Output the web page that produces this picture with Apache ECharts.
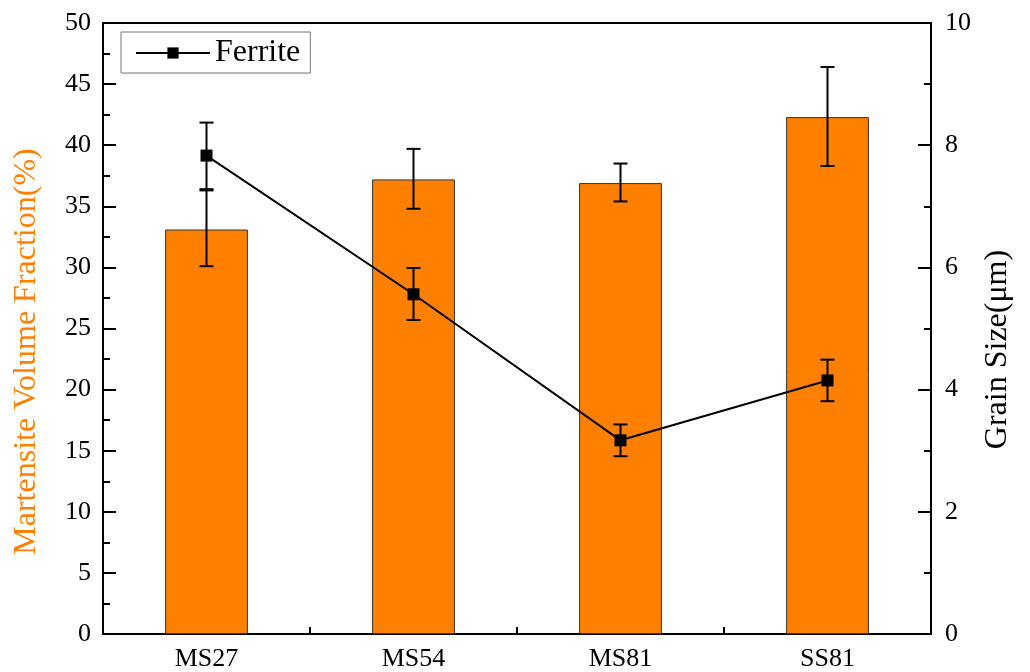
<!DOCTYPE html>
<html>
<head>
<meta charset="utf-8">
<script src="https://cdn.jsdelivr.net/npm/echarts@6/dist/echarts.min.js"></script>
<style>html,body{margin:0;padding:0;background:#fff;}#c{width:1030px;height:672px;}</style>
</head>
<body>
<div id="c"></div>
<script>
const categories = ['MS27', 'MS54', 'MS81', 'SS81'];
const martensite = [33.1, 37.2, 36.9, 42.3];
const martensiteLow = [30.1, 34.8, 35.4, 38.3];
const martensiteHigh = [36.4, 39.7, 38.5, 46.4];
const ferrite = [7.83, 5.56, 3.17, 4.15];
const ferriteLow = [7.26, 5.14, 2.91, 3.81];
const ferriteHigh = [8.37, 5.99, 3.43, 4.49];
const leftTicks = [0, 50, 5];
const rightTicks = [0, 10, 2];

const FONT = 'Liberation Serif';
const chart = echarts.init(document.getElementById('c'), null, {renderer: 'canvas'});

function errRender(params, api) {
  const x = api.value(0);
  const lo = api.coord([x, api.value(1)]);
  const hi = api.coord([x, api.value(2)]);
  const cap = 7;
  const st = {stroke: '#000', lineWidth: 2};
  return {
    type: 'group',
    children: [
      {type: 'line', shape: {x1: lo[0], y1: lo[1], x2: hi[0], y2: hi[1]}, style: st},
      {type: 'line', shape: {x1: lo[0] - cap, y1: lo[1], x2: lo[0] + cap, y2: lo[1]}, style: st},
      {type: 'line', shape: {x1: hi[0] - cap, y1: hi[1], x2: hi[0] + cap, y2: hi[1]}, style: st}
    ]
  };
}

const axisLine = {show: true, lineStyle: {color: '#000', width: 2}};
const labelStyle = {fontFamily: FONT, fontSize: 26, color: '#000'};

chart.setOption({
  animation: false,
  backgroundColor: '#fff',
  grid: {left: 103, right: 99, top: 23, bottom: 37},
  legend: {
    show: true,
    data: ['Ferrite'],
    left: 121, top: 32,
    padding: [5, 10, 4, 14],
    borderColor: '#777', borderWidth: 1,
    itemWidth: 74, itemHeight: 14, itemGap: 6,
    textStyle: {fontFamily: FONT, fontSize: 32, color: '#000'}
  },
  xAxis: [
    {
      type: 'category', data: categories, position: 'bottom',
      axisLine: axisLine,
      axisTick: {show: true, inside: true, alignWithLabel: true, length: 12, lineStyle: {color: '#000', width: 2}},
      axisLabel: Object.assign({margin: 12}, labelStyle),
      splitLine: {show: false}
    },
    {
      type: 'value', min: 0, max: 4, interval: 1, position: 'bottom',
      axisLine: {show: false},
      axisTick: {show: true, inside: true, length: 7, lineStyle: {color: '#000', width: 2}},
      axisLabel: {show: false}, splitLine: {show: false}
    },
    {
      type: 'category', data: categories, position: 'top',
      axisLine: axisLine, axisTick: {show: false}, axisLabel: {show: false}, splitLine: {show: false}
    }
  ],
  yAxis: [
    {
      type: 'value', min: leftTicks[0], max: leftTicks[1], interval: leftTicks[2],
      name: 'Martensite Volume Fraction(%)', nameLocation: 'middle', nameGap: 60, nameRotate: 90,
      nameTextStyle: {fontFamily: FONT, fontSize: 32, color: '#FF8000', padding: [0, 46, 0, 0]},
      axisLine: axisLine,
      axisTick: {show: true, inside: true, length: 13, lineStyle: {color: '#000', width: 2}},
      minorTick: {show: true, splitNumber: 2, length: 7, lineStyle: {color: '#000', width: 2}},
      axisLabel: Object.assign({margin: 12}, labelStyle),
      splitLine: {show: false}
    },
    {
      type: 'value', min: rightTicks[0], max: rightTicks[1], interval: rightTicks[2], position: 'right',
      name: 'Grain Size(μm)', nameLocation: 'middle', nameGap: 51, nameRotate: 90,
      nameTextStyle: {fontFamily: FONT, fontSize: 32, color: '#000', padding: [0, 42, 0, 0]},
      axisLine: axisLine,
      axisTick: {show: true, inside: true, length: 13, lineStyle: {color: '#000', width: 2}},
      minorTick: {show: true, splitNumber: 2, length: 7, lineStyle: {color: '#000', width: 2}},
      axisLabel: Object.assign({margin: 14}, labelStyle),
      splitLine: {show: false}
    }
  ],
  series: [
    {
      name: 'Martensite', type: 'bar', data: martensite, barWidth: '40%',
      xAxisIndex: 0, yAxisIndex: 0, z: 2,
      itemStyle: {color: '#FF8000', borderColor: '#333', borderWidth: 1}
    },
    {
      name: 'MartErr', type: 'custom', xAxisIndex: 0, yAxisIndex: 0, z: 3,
      renderItem: errRender,
      encode: {x: 0, y: [1, 2]},
      data: categories.map((c, i) => [i, martensiteLow[i], martensiteHigh[i]])
    },
    {
      name: 'FerErr', type: 'custom', xAxisIndex: 0, yAxisIndex: 1, z: 4,
      renderItem: errRender,
      encode: {x: 0, y: [1, 2]},
      data: categories.map((c, i) => [i, ferriteLow[i], ferriteHigh[i]])
    },
    {
      name: 'Ferrite', type: 'line', data: ferrite, xAxisIndex: 0, yAxisIndex: 1, z: 5,
      symbol: 'rect', symbolSize: 12,
      lineStyle: {color: '#000', width: 2},
      itemStyle: {color: '#000'}
    }
  ]
});
</script>
</body>
</html>
